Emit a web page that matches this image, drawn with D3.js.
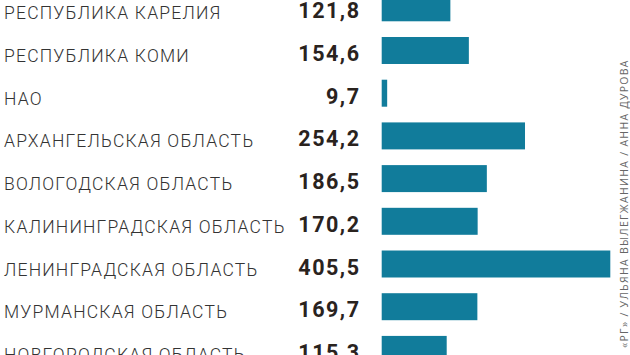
<!DOCTYPE html>
<html>
<head>
<meta charset="utf-8">
<script src="https://cdn.jsdelivr.net/npm/d3@7"></script>
<style>
  body { margin: 0; background: #fff; }
  svg { display: block; }
  .label { font-family: Roboto, sans-serif; font-weight: 300; font-size: 17.5px; fill: #333; letter-spacing: 1.2px; }
  .value { font-family: Roboto, sans-serif; font-weight: 700; font-size: 21.5px; fill: #2a231e; letter-spacing: 1.5px; }
  .credit { font-family: "Open Sans", sans-serif; font-size: 10.5px; fill: #666; letter-spacing: 1.3px; }
</style>
</head>
<body>
<div id="chart"></div>
<script>
// regions and their values
var regions = ["РЕСПУБЛИКА КАРЕЛИЯ", "РЕСПУБЛИКА КОМИ", "НАО", "АРХАНГЕЛЬСКАЯ ОБЛАСТЬ",
  "ВОЛОГОДСКАЯ ОБЛАСТЬ", "КАЛИНИНГРАДСКАЯ ОБЛАСТЬ", "ЛЕНИНГРАДСКАЯ ОБЛАСТЬ",
  "МУРМАНСКАЯ ОБЛАСТЬ", "НОВГОРОДСКАЯ ОБЛАСТЬ"];
var values = [121.8, 154.6, 9.7, 254.2, 186.5, 170.2, 405.5, 169.7, 115.3];
var credit = "«РГ» / УЛЬЯНА ВЫЛЕГЖАНИНА / АННА ДУРОВА";

var width = 630, height = 355;

var svg = d3.select("#chart").append("svg")
  .attr("width", width)
  .attr("height", height);

var y = d3.scaleBand()
  .domain(regions)
  .range([-5.7, 362.9])
  .paddingInner(0.368)
  .paddingOuter(0);

var x = d3.scaleLinear()
  .domain([0, 405.5])
  .range([381.7, 610.3]);

var fmt = function(v) { return d3.format(".1f")(v).replace(".", ","); };

var row = svg.selectAll(".row")
  .data(regions)
  .enter().append("g")
  .attr("class", "row");

row.append("rect")
  .attr("x", x(0))
  .attr("y", function(d) { return y(d); })
  .attr("width", function(d, i) { return x(values[i]) - x(0); })
  .attr("height", y.bandwidth())
  .attr("fill", "#117c9b");

row.append("text")
  .attr("class", "label")
  .attr("x", 4)
  .attr("y", function(d) { return y(d) + y.bandwidth() / 2 + 11.5; })
  .text(function(d) { return d; });

row.append("text")
  .attr("class", "value")
  .attr("text-anchor", "end")
  .attr("x", 360.5)
  .attr("y", function(d) { return y(d) + y.bandwidth() / 2 + 10.5; })
  .text(function(d, i) { return fmt(values[i]); });

// vertical credit line on the right edge
svg.append("text")
  .attr("class", "credit")
  .attr("transform", "translate(627.5,348) rotate(-90)")
  .text(credit);
</script>
</body>
</html>
